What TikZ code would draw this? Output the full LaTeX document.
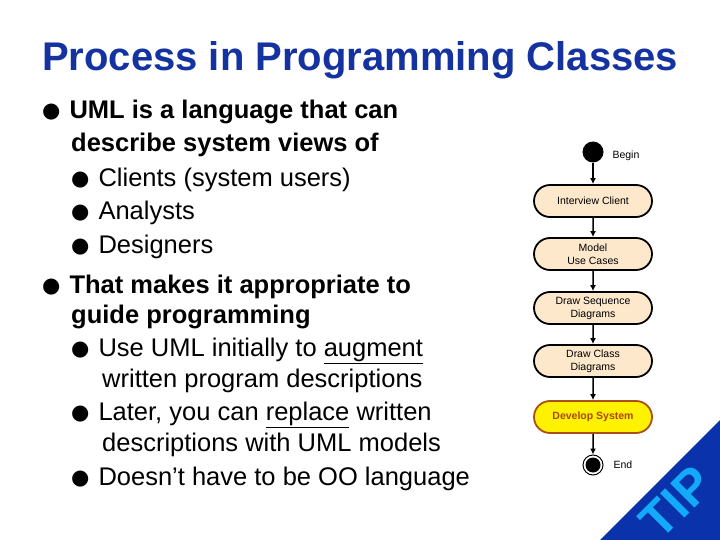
\documentclass[tikz,border=0pt]{standalone}
\usepackage{fontspec}
\setmainfont{Liberation Sans}
\newfontfamily\dv{DejaVu Sans}
\usetikzlibrary{arrows.meta,shapes.misc}
\definecolor{ttl}{RGB}{20,50,160}
\definecolor{peach}{RGB}{253,232,204}
\definecolor{tipblue}{RGB}{10,50,170}
\definecolor{tiplight}{RGB}{20,170,250}
\begin{document}
\begin{tikzpicture}[x=1pt,y=-1pt,
  act/.style={rounded rectangle,draw,line width=1.8pt,fill=peach,minimum width=120pt,minimum height=32pt,font=\fontsize{10.5}{13}\selectfont,align=center,inner sep=1pt},
  flow/.style={-{Latex[length=6pt,width=6pt]},line width=1.5pt},
  bt/.style={anchor=west,font=\fontsize{25.5}{28}\selectfont,inner sep=0pt}]
\useasboundingbox (0,0) rectangle (720,540);
\fill[white] (0,0) rectangle (720,540);
\node[anchor=west,text=ttl,font=\bfseries\fontsize{40}{42}\selectfont,inner sep=0pt] (title) at (42,60) {Process in Programming Classes};
\def\bl{\raisebox{1pt}{\dv\fontsize{21}{21}\selectfont ●}\hspace{9pt}}
\node[bt] (l1) at (42,112) {\bl\bfseries UML is a language that can};
\node[bt] (l2) at (71,145) {\bfseries describe system views of};
\node[bt] (l3) at (71,180) {\bl Clients (system users)};
\node[bt] (l4) at (71,213) {\bl Analysts};
\node[bt] (l5) at (71,247) {\bl Designers};
\node[bt] (l6) at (42,287) {\bl\bfseries That makes it appropriate to};
\node[bt] (l7) at (71,317) {\bfseries guide programming};
\node[bt] (l8) at (71,351) {\bl Use UML initially to \underline{augment}};
\node[bt] (l9) at (102,381) {written program descriptions};
\node[bt] (l10) at (71,415) {\bl Later, you can \underline{replace} written};
\node[bt] (l11) at (102,445) {descriptions with UML models};
\node[bt] (l12) at (71,479) {\bl Doesn’t have to be OO language};
% flow
\node[circle,fill=black,minimum size=21pt,inner sep=0pt] (b) at (593,152) {};
\node[anchor=west,font=\fontsize{10.5}{12}\selectfont] (bl) at (609,156) {Begin};
\node[act] (a1) at (593,201) {Interview Client};
\node[act] (a2) at (593,254) {Model\\Use Cases};
\node[act] (a3) at (593,308) {Draw Sequence\\Diagrams};
\node[act] (a4) at (593,361) {Draw Class\\Diagrams};
\node[act,fill=yellow,draw={rgb,255:red,170;green,80;blue,20},text={rgb,255:red,170;green,70;blue,10},font=\bfseries\fontsize{10.5}{13}\selectfont] (a5) at (593,417) {Develop System};
\node[circle,draw,line width=1pt,minimum size=20pt,inner sep=0pt] (e) at (593,465) {};
\fill (e.center) circle (7.5pt);
\node[anchor=west,font=\fontsize{10.5}{12}\selectfont] (el) at (610,465) {End};
\draw[flow] (b) -- (a1);
\draw[flow] (a1) -- (a2);
\draw[flow] (a2) -- (a3);
\draw[flow] (a3) -- (a4);
\draw[flow] (a4) -- (a5);
\draw[flow] (a5) -- (e);
% TIP
\fill[tipblue] (600,540) -- (720,420) -- (720,540) -- cycle;
\node[rotate=45,text=tiplight,font=\bfseries\fontsize{50}{52}\selectfont,inner sep=0pt] (tip) at (676,502) {TIP};
\end{tikzpicture}
\end{document}
